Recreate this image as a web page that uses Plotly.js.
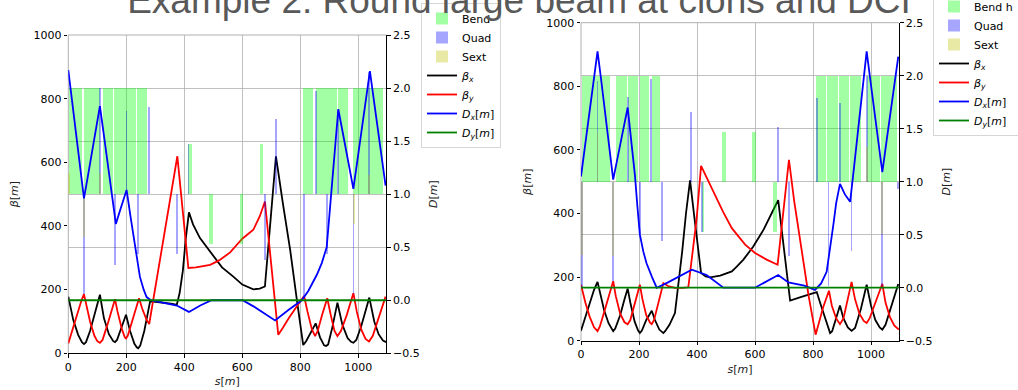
<!DOCTYPE html>
<html><head><meta charset="utf-8">
<script src="https://cdn.plot.ly/plotly-3.0.1.min.js"></script>
<style>body{margin:0;background:#fff}</style>
</head><body>
<div id="chart" style="width:1018px;height:390px"></div>
<script>
// ---------- Left panel (A) ----------
const sA_betax = [0,17,34,47,54,61,75,92,109,123,140,155,161,168,182,199,213,228,236,241,248,262,275,282,300,330,360,374,384,395,405,416,430,454,480,500,530,569,600,638,660,678,695,708,716,740,765,790,810,820,835,853,868,882,889,896,910,928,945,963,975,983,993,1010,1038,1055,1070,1085,1096];
const betaxA  = [178,105,58,35,29,35,70,125,184,110,60,38,35,42,78,121,70,30,19,16,24,70,130,163,162,159,155,152,190,260,360,443,405,362,330,304,270,241,216,201,203,210,388,520,619,470,325,155,26,38,65,94,50,25,23,28,80,159,90,48,36,33,42,85,175,100,60,40,35];
const sA_betay = [0,15,30,45,54,60,75,90,100,109,118,135,150,161,170,185,195,199,205,220,235,244,255,270,279,285,300,320,340,360,376,390,405,414,440,489,520,558,600,638,660,678,695,710,724,740,760,790,813,825,840,851,860,875,893,905,918,928,940,960,983,995,1010,1025,1037,1050,1070,1094];
const betayA  = [31,75,125,165,186,160,100,55,38,33,42,90,140,170,130,75,50,47,55,100,150,173,140,105,92,125,206,320,430,530,619,490,352,268,270,278,292,317,360,388,430,477,322,186,58,80,110,150,180,130,75,54,70,120,173,120,70,54,70,120,189,130,75,45,37,55,110,178];
const sA_dx = [0,20,40,54,65,80,95,109,125,145,164,180,201,215,230,247,260,270,285,305,340,374,416,455,494,601,640,672,713,760,805,828,857,874,891,900,915,931,945,965,983,1000,1020,1040,1060,1080,1094];
const dxA   = [2.17,1.72,1.27,0.96,1.13,1.37,1.60,1.83,1.51,1.10,0.72,0.86,1.04,0.78,0.50,0.22,0.10,0.03,0.0,-0.01,-0.03,-0.05,-0.11,-0.05,0.0,0.0,-0.06,-0.12,-0.19,-0.09,0.0,0.09,0.24,0.35,0.50,0.79,1.28,1.80,1.60,1.31,1.05,1.38,1.77,2.16,1.76,1.36,1.08];
const sA_dy = [0,1096];
const dyA   = [0,0];
const bendA_s0 = [3,53,118,157,236,414,486,592,661,808,854,886,929,982];
const bendA_s1 = [48,108,154,232,271,425,498,603,672,843,884,927,965,1086];
const bendA_k  = [1,1,1,1,1,0.47,-0.47,-0.47,0.47,1,1,1,1,1];
const quadA_s = [54,109,162,201,241,277,376,414,678,716,812,853,891,931,983,1038];
const quadA_k = [-0.94,1.0,-0.67,0.78,-0.56,0.82,-0.56,0.47,-0.62,0.71,-0.97,0.97,-0.56,0.80,-0.94,1.15];
const sextA_s = [3,54,109,985,1038];
const sextA_k = [0.2,-0.4,0.2,-0.28,0.18];

// ---------- Right panel (B) ----------
const sB_betax = [0,15,30,45,57,65,80,95,105,111,118,135,150,161,170,185,197,203,210,225,244,255,270,280,284,290,305,324,340,349,362,376,390,405,414,430,445,480,520,537,560,594,630,663,680,695,708,721,760,790,813,825,840,852,859,866,880,893,905,920,933,945,965,985,1000,1015,1030,1039,1050,1070,1094];
const betaxB  = [31,75,120,160,185,150,95,55,38,30,38,80,130,164,120,60,32,24,32,65,94,65,35,25,24,30,50,87,200,281,400,504,395,285,213,202,199,205,218,233,255,296,350,411,442,326,226,126,138,146,153,118,76,40,24,30,75,111,70,42,31,40,100,176,110,65,42,35,50,110,178];
const sB_betay = [0,15,30,45,57,65,80,95,111,120,135,150,161,170,185,203,212,225,238,244,252,268,284,300,324,350,370,385,399,414,440,462,490,520,566,600,640,678,690,703,717,735,761,785,809,820,835,855,865,880,893,905,918,933,945,960,975,985,995,1015,1039,1050,1065,1080,1096];
const betayB  = [176,120,75,42,30,45,90,140,187,140,85,58,52,65,115,176,130,80,57,52,65,120,181,172,166,166,168,280,386,550,500,459,405,354,302,276,255,239,341,451,569,440,281,140,19,55,105,157,110,70,52,70,120,185,130,85,62,56,70,120,179,120,75,48,35];
const sB_dx = [0,15,30,45,57,70,85,100,111,125,140,150,161,175,186,195,203,215,226,245,261,300,340,382,433,491,600,640,680,715,770,807,828,847,860,870,880,893,910,928,940,960,985,1000,1020,1039,1055,1075,1094];
const dxB   = [1.05,1.36,1.66,1.96,2.23,1.95,1.62,1.26,1.02,1.21,1.41,1.55,1.70,1.34,1.06,0.75,0.50,0.34,0.23,0.10,0.0,0.05,0.11,0.17,0.12,0.0,0.0,0.06,0.12,0.05,0.02,-0.02,0.04,0.15,0.38,0.59,0.80,0.98,0.88,0.81,1.10,1.61,2.23,1.91,1.49,1.09,1.41,1.80,2.18];
const sB_dy = [0,1096];
const dyB   = [0,0];
const bendB_s0 = [2,120,163,203,246,416,486,591,663,811,849,889,927,985,1035];
const bendB_s1 = [101,157,198,236,272,425,500,602,675,846,886,924,964,1031,1089];
const bendB_k  = [1,1,1,1,1,-0.47,0.47,0.47,-0.47,1,1,1,1,1,1];
const quadB_s = [4,57,111,161,203,241,280,378,416,678,717,813,853,893,933,985,1039,1094];
const quadB_k = [-1.0,0.95,-0.94,0.80,-0.49,0.97,-0.56,0.66,-0.47,0.52,-0.70,0.79,-0.98,0.74,-0.65,1.0,-0.98,-0.07];
const sextB_s = [4,57,111,985,1039];
const sextB_k = [-0.69,0.47,-0.70,0.33,-0.49];

// ---------- labels ----------
const titleText = "Example 2: Round large beam at clons and DCI";
const legendNamesA = ["Bend","Quad","Sext","<i>β<sub>x</sub></i>","<i>β<sub>y</sub></i>","<i>D<sub>x</sub></i>[<i>m</i>]","<i>D<sub>y</sub></i>[<i>m</i>]"];
const legendNamesB = ["Bend h","Quad","Sext","<i>β<sub>x</sub></i>","<i>β<sub>y</sub></i>","<i>D<sub>x</sub></i>[<i>m</i>]","<i>D<sub>y</sub></i>[<i>m</i>]"];

// ---------- styles ----------
const C_BEND = 'rgba(0,255,0,0.36)', C_QUAD = 'rgba(0,0,255,0.35)', C_SEXT = 'rgba(191,191,0,0.35)';
const ELEM_W = 6, ELEM_BASE = 1.0, LW = 1.8;

function bendTrace(s0, s1, k, xa, ya, leg, name) {
  return {type:'bar', x:s0.map((v,i)=>(v+s1[i])/2), width:s0.map((v,i)=>s1[i]-v), y:k, base:ELEM_BASE,
    xaxis:xa, yaxis:ya, legend:leg, name:name, marker:{color:C_BEND, line:{width:0}}, hoverinfo:'skip'};
}
function elemTrace(s, k, color, xa, ya, leg, name) {
  return {type:'bar', x:s, width:s.map(()=>ELEM_W), y:k, base:ELEM_BASE,
    xaxis:xa, yaxis:ya, legend:leg, name:name, marker:{color:color, line:{width:0}}, hoverinfo:'skip'};
}
function lineTrace(s, v, color, xa, ya, leg, name) {
  return {type:'scatter', mode:'lines', x:s, y:v, xaxis:xa, yaxis:ya, legend:leg, name:name,
    line:{color:color, width:LW}, hoverinfo:'skip'};
}

const traces = [
  bendTrace(bendA_s0, bendA_s1, bendA_k, 'x', 'y2', 'legend', legendNamesA[0]),
  elemTrace(quadA_s, quadA_k, C_QUAD, 'x', 'y2', 'legend', legendNamesA[1]),
  elemTrace(sextA_s, sextA_k, C_SEXT, 'x', 'y2', 'legend', legendNamesA[2]),
  lineTrace(sA_betax, betaxA, '#000000', 'x', 'y', 'legend', legendNamesA[3]),
  lineTrace(sA_betay, betayA, '#ff0000', 'x', 'y', 'legend', legendNamesA[4]),
  lineTrace(sA_dx, dxA, '#0000ff', 'x', 'y2', 'legend', legendNamesA[5]),
  lineTrace(sA_dy, dyA, '#008000', 'x', 'y2', 'legend', legendNamesA[6]),

  bendTrace(bendB_s0, bendB_s1, bendB_k, 'x2', 'y4', 'legend2', legendNamesB[0]),
  elemTrace(quadB_s, quadB_k, C_QUAD, 'x2', 'y4', 'legend2', legendNamesB[1]),
  elemTrace(sextB_s, sextB_k, C_SEXT, 'x2', 'y4', 'legend2', legendNamesB[2]),
  lineTrace(sB_betax, betaxB, '#000000', 'x2', 'y3', 'legend2', legendNamesB[3]),
  lineTrace(sB_betay, betayB, '#ff0000', 'x2', 'y3', 'legend2', legendNamesB[4]),
  lineTrace(sB_dx, dxB, '#0000ff', 'x2', 'y4', 'legend2', legendNamesB[5]),
  lineTrace(sB_dy, dyB, '#008000', 'x2', 'y4', 'legend2', legendNamesB[6])
];

const W = 1018, H = 390;
const tickFont = {family:'DejaVu Sans', size:11, color:'#000'};
const titleFont = {family:'DejaVu Sans', size:11, color:'#222'};
const GRID = '#b0b0b0';
function xAx(x0, x1, anchor) {
  return {domain:[x0/W, x1/W], anchor:anchor, range:[0,1096.5], dtick:200, tick0:0,
    showgrid:true, gridcolor:GRID, gridwidth:0.8, zeroline:false, showline:true, linecolor:'#000', linewidth:1,
    ticks:'outside', ticklen:3.5, tickcolor:'#000', tickfont:tickFont,
    title:{text:'<i>s</i>[<i>m</i>]', font:titleFont, standoff:4}};
}
function yAx(top, bot, anchor) {
  return {domain:[(H-bot)/H, (H-top)/H], anchor:anchor, range:[0,1000], dtick:200, tick0:0,
    showgrid:false, zeroline:false, showline:false, ticks:'outside', ticklen:3.5, tickcolor:'#000', tickfont:tickFont,
    title:{text:'<i>β</i>[<i>m</i>]', font:titleFont, standoff:12}};
}
function dAx(over, anchor) {
  return {overlaying:over, side:'right', anchor:anchor, range:[-0.5,2.5], dtick:0.5, tick0:0,
    tickformat:'.1f', showgrid:true, gridcolor:GRID, gridwidth:0.8, zeroline:false, showline:true, linecolor:'#000', linewidth:1,
    ticks:'outside', ticklen:3.5, tickcolor:'#000', tickfont:tickFont,
    title:{text:'<i>D</i>[<i>m</i>]', font:titleFont, standoff:10}};
}
const legStyle = {xanchor:'left', yanchor:'top', bgcolor:'rgba(255,255,255,0.8)', bordercolor:'#d6d6d6', borderwidth:1,
  font:{family:'DejaVu Sans', size:11, color:'#000'}, itemwidth:30, tracegroupgap:0};

// frame edges (top and left) drawn in grid grey, as in the reference
function frame(xd, yd) {
  return [
    {type:'line', xref:xd, yref:yd, x0:0, x1:1, y0:1, y1:1, line:{color:GRID, width:1}, layer:'below'},
    {type:'line', xref:xd, yref:yd, x0:0, x1:0, y0:0, y1:1, line:{color:GRID, width:1}, layer:'below'}
  ];
}

const layout = {
  width:W, height:H, margin:{l:0,r:0,t:0,b:0, autoexpand:false},
  paper_bgcolor:'#fff', plot_bgcolor:'rgba(0,0,0,0)', barmode:'overlay', bargap:0,
  title:{text:titleText, xref:'paper', x:519/W, xanchor:'center', yref:'container', y:1-13/H, yanchor:'bottom',
    font:{family:'Liberation Sans, Arial', size:37, color:'#595959'}},
  xaxis: xAx(68.3, 386.3, 'y'),
  yaxis: yAx(35, 353.3, 'x'),
  yaxis2: dAx('y', 'x'),
  xaxis2: xAx(581, 899, 'y3'),
  yaxis3: yAx(22.7, 340.7, 'x2'),
  yaxis4: dAx('y3', 'x2'),
  legend: Object.assign({x:421/W, y:(H-3)/H}, legStyle),
  legend2: Object.assign({x:933/W, y:(H+9)/H}, legStyle),
  shapes: frame('x domain','y domain').concat(frame('x2 domain','y3 domain'))
};
Plotly.newPlot('chart', traces, layout, {staticPlot:true, displayModeBar:false});
</script>
</body></html>
